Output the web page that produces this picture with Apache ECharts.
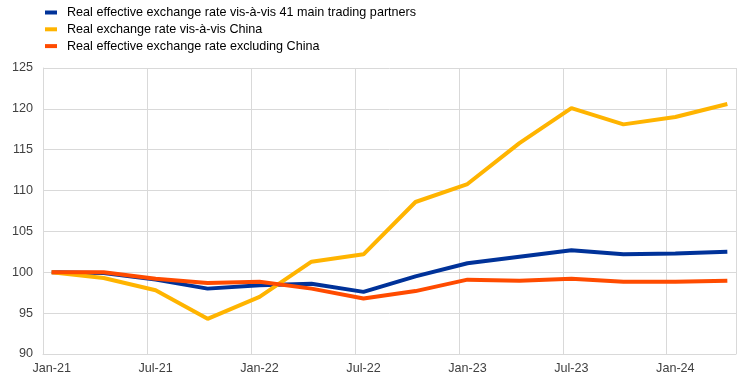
<!DOCTYPE html>
<html>
<head>
<meta charset="utf-8">
<script src="https://cdn.jsdelivr.net/npm/echarts@6/dist/echarts.min.js"></script>
<style>html,body{margin:0;padding:0;background:#fff}#c{width:740px;height:383px}</style>
</head>
<body>
<div id="c"></div>
<script>
const months = ['Jan-21','Feb-21','Mar-21','Apr-21','May-21','Jun-21','Jul-21','Aug-21','Sep-21','Oct-21','Nov-21','Dec-21',
  'Jan-22','Feb-22','Mar-22','Apr-22','May-22','Jun-22','Jul-22','Aug-22','Sep-22','Oct-22','Nov-22','Dec-22',
  'Jan-23','Feb-23','Mar-23','Apr-23','May-23','Jun-23','Jul-23','Aug-23','Sep-23','Oct-23','Nov-23','Dec-23',
  'Jan-24','Feb-24','Mar-24','Apr-24'];
const obsDates = ['Jan-21','Apr-21','Jul-21','Oct-21','Jan-22','Apr-22','Jul-22','Oct-22','Jan-23','Apr-23','Jul-23','Oct-23','Jan-24','Apr-24'];
const reer41 = [100, 99.9, 99.1, 98.0, 98.4, 98.6, 97.6, 99.5, 101.1, 101.9, 102.7, 102.2, 102.3, 102.5];
const rerChina = [100, 99.3, 97.8, 94.3, 97.0, 101.3, 102.2, 108.6, 110.8, 115.8, 120.1, 118.1, 119.0, 120.6];
const reerExChina = [100, 100, 99.2, 98.7, 98.85, 98.0, 96.8, 97.7, 99.1, 98.97, 99.2, 98.85, 98.85, 98.97];
const seriesNames = ['Real effective exchange rate vis-à-vis 41 main trading partners','Real exchange rate vis-à-vis China','Real effective exchange rate excluding China'];
const colors = ['#003299','#FFB400','#FF4B00'];

const pair = vals => obsDates.map((d, i) => [d, vals[i]]);
const chart = echarts.init(document.getElementById('c'), null, {renderer: 'canvas'});
const font = 'Liberation Sans, Arial, sans-serif';
chart.setOption({
  animation: false,
  color: colors,
  grid: {left: 43, right: 4, top: 68, bottom: 29, containLabel: false},
  legend: {
    orient: 'vertical', left: 40, top: 1, itemWidth: 12, itemHeight: 4, itemGap: 3.8,
    icon: 'rect',
    textStyle: {fontFamily: font, fontSize: 12.6, color: '#000', padding: [0,0,0,5]},
    data: seriesNames
  },
  xAxis: {
    type: 'category', data: months, boundaryGap: true,
    axisLine: {show: true, lineStyle: {color: '#d9d9d9', width: 1}},
    axisTick: {show: false, interval: 5},
    axisLabel: {interval: 5, color: '#404040', fontFamily: font, fontSize: 12.6, margin: 8},
    splitLine: {show: true, interval: 5, lineStyle: {color: '#d9d9d9', width: 1}}
  },
  yAxis: {
    type: 'value', min: 90, max: 125, interval: 5,
    axisLine: {show: true, lineStyle: {color: '#d9d9d9', width: 1}},
    axisTick: {show: false},
    axisLabel: {color: '#404040', fontFamily: font, fontSize: 12.6, margin: 10},
    splitLine: {show: true, lineStyle: {color: '#d9d9d9', width: 1}}
  },
  series: [
    {name: seriesNames[0], type: 'line', data: pair(reer41), symbol: 'none', lineStyle: {width: 4, color: colors[0]}, z: 2},
    {name: seriesNames[1], type: 'line', data: pair(rerChina), symbol: 'none', lineStyle: {width: 4, color: colors[1]}, z: 3},
    {name: seriesNames[2], type: 'line', data: pair(reerExChina), symbol: 'none', lineStyle: {width: 4, color: colors[2]}, z: 4}
  ]
});
</script>
</body>
</html>
